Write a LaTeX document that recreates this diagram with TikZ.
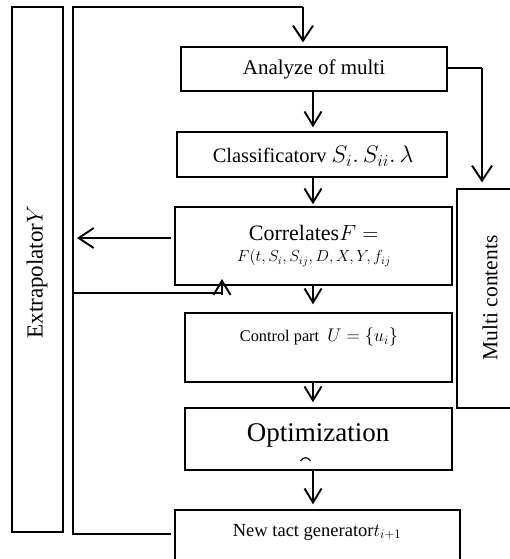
\documentclass[tikz,border=0pt]{standalone}
\usepackage{fix-cm}
\usepackage{fontspec}
\setmainfont{Liberation Serif}
\usetikzlibrary{arrows.meta,calc}
\begin{document}
\begin{tikzpicture}[x=1pt,y=-1pt,
  box/.style={draw,line width=1.4pt,rectangle,inner sep=0pt},
  txt/.style={inner sep=0pt,align=center},
  conn/.style={line width=1.4pt},
  arr/.style={line width=1.9pt,-{Straight Barb[length=15pt,width=20pt,line width=1.9pt]}},
  arrs/.style={line width=1.9pt,-{Straight Barb[length=14pt,width=17pt,line width=1.9pt]}}]
\useasboundingbox (0,0) rectangle (510,559);
% boxes
\node[box,minimum width=51,minimum height=525] (extrap) at (37.5,269.5) {};
\node[txt,rotate=90,font=\fontsize{23}{26}\selectfont] (extraptxt) at (37,272) {Extrapolator$Y$};
\node[box,minimum width=266,minimum height=44,font=\fontsize{21}{24}\selectfont] (analyze) at (314,69) {Analyze of multi};
\node[box,minimum width=270,minimum height=45] (classif) at (312,154.5) {};
\node[txt,font=\fontsize{20.5}{26}\selectfont] (classiftxt) at (313,156) {Classificatorv {\fontsize{24}{26}\selectfont$S_{i}.\,S_{ii}.\,\lambda$}};
\node[box,minimum width=277,minimum height=78] (correl) at (313.5,246) {};
\node[txt,font=\fontsize{22}{24}\selectfont] (correltxtA) at (313.5,233) {Correlates$F=$};
\node[txt,font=\fontsize{16}{20}\selectfont] (correltxtB) at (314,258) {$F(t,S_i,S_{ij},D,X,Y,f_{ij}$};
\node[box,minimum width=267,minimum height=69] (control) at (318.5,347.5) {};
\node[txt,font=\fontsize{16.3}{20}\selectfont] (controltxt) at (319,337) {Control part\ \ {\fontsize{18.3}{22}\selectfont$U=\{u_i\}$}};
\node[box,minimum width=267,minimum height=62] (opt) at (318.5,439) {};
\node[txt,font=\fontsize{27}{30}\selectfont] (opttxt) at (318,435) {Optimization};
\node[box,minimum width=285,minimum height=80] (newtact) at (317.5,550) {};
\node[txt,font=\fontsize{18.5}{22}\selectfont] (newtacttxt) at (317,532) {New tact generator$t_{i+1}$};
\node[box,minimum width=66,minimum height=219] (multi) at (490,298.5) {};
\node[txt,rotate=90,font=\fontsize{21.5}{24}\selectfont] (multitxt) at (490,298) {Multi contents};
% clipped glyph remnant in optimization box
\draw[line width=1.1pt] (300.5,461) .. controls (303,456.5) and (308,456.5) .. (310.5,461);
% coordinates for the feedback loop
\coordinate (fbBot) at (73,534);
\coordinate (fbTop) at (73,7);
\coordinate (fbTopR) at (303,7);
\coordinate (fbMid) at (73,293);
\coordinate (upTip) at (222,279);
\coordinate (mcorner) at (482,68);
% feedback loop from new tact generator to analyze
\draw[conn] ([xshift=-3pt]newtact.west |- fbBot) -- (fbBot) -- (fbTop) -- (fbTopR);
\draw[arr] (fbTopR) -- ([yshift=4pt]fbTopR |- analyze.north);
% analyze to multi contents
\draw[conn] ([yshift=1pt]analyze.east) -- (mcorner);
\draw[arr] (mcorner) -- ([yshift=6pt]mcorner |- multi.north);
% main chain
\draw[arrs] (313,91) -- ([yshift=4pt]313,0 |- classif.north);
\draw[arrs] (313,177) -- ([yshift=2pt]313,0 |- correl.north);
\draw[arrs] (313,285) -- ([yshift=8pt]313,0 |- control.north);
\draw[arrs] (313,382) -- ([yshift=5pt]313,0 |- opt.north);
\draw[arrs] (313,470) -- ([yshift=5pt]313,0 |- newtact.north);
% correlates to extrapolator
\draw[arr] ([yshift=8pt,xshift=-3pt]correl.west) -- ([xshift=4pt,yshift=8pt]fbMid |- correl.west);
% extrapolator loop back into correlates
\draw[conn] (fbMid) -- (upTip |- fbMid);
\draw[arrs] ([yshift=-2pt]upTip |- fbMid) -- (upTip);
\end{tikzpicture}
\end{document}
